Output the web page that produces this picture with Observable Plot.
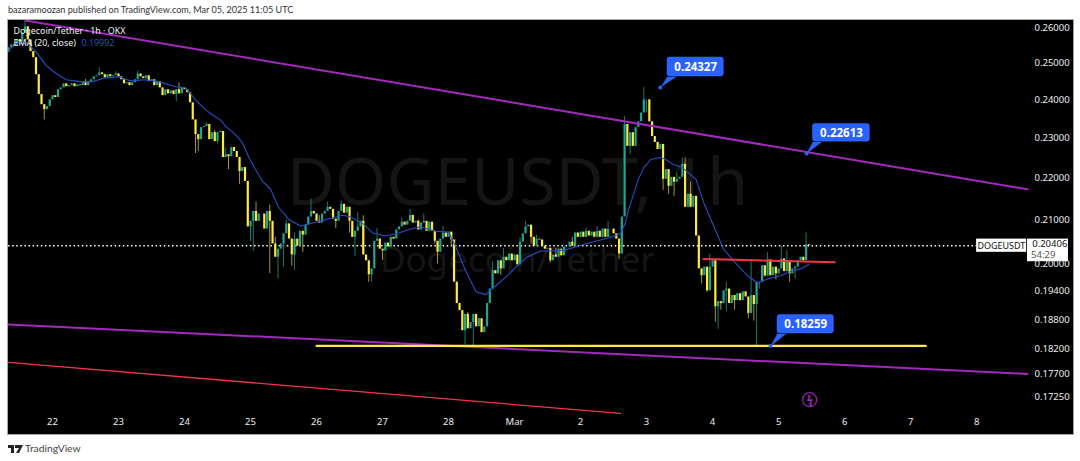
<!DOCTYPE html>
<html><head><meta charset="utf-8">
<script src="https://cdn.jsdelivr.net/npm/d3@7"></script>
<script src="https://cdn.jsdelivr.net/npm/@observablehq/plot@0.6"></script>
<style>
html,body{margin:0;padding:0;background:#fff;width:1080px;height:461px;overflow:hidden;font-family:Lato,sans-serif}
#head{height:20px;box-sizing:border-box;padding:3px 0 0 8px;font-size:9.1px;line-height:13px;color:#333}
#panel{margin-left:7px;width:1065px;height:414px;border:1px solid #a8a8a8;box-sizing:content-box;margin-top:-1px;background:#000}
#panel svg{display:block}
#foot{height:26px;position:relative;font-size:10.3px;color:#444}
#foot span{position:absolute;left:25px;top:7px}
#foot svg{position:absolute;left:8px;top:10px}
</style></head><body>
<div id="head">bazaramoozan published on TradingView.com, Mar 05, 2025 11:05 UTC</div>
<div id="panel"></div>
<div id="foot"><svg width="15" height="8" viewBox="0 0 15 8"><path d="M0 0H6V8H3V3H0Z M7 0H15L11 8H8L11 3H7Z" fill="#222"/><circle cx="8.6" cy="1.5" r="1.4" fill="#222"/></svg><span>TradingView</span></div>
<script>
// hourly closes, from hour 0 = 21 Feb 08:00 UTC
const closes = [
.2543,.2551,.2548,.2565,.2559,.2585,.2603,.2565,.2532,.2515,.2468,.2414,.2387,.2374,.2382,.2400,
.2411,.2406,.2427,.2432,.2443,.2435,.2438,.2443,.2435,.2440,.2438,.2446,.2438,.2449,.2454,.2462,
.2465,.2473,.2468,.2459,.2468,.2462,.2465,.2470,.2462,.2454,.2443,.2446,.2438,.2446,.2454,.2470,
.2462,.2457,.2465,.2449,.2454,.2438,.2449,.2432,.2411,.2427,.2416,.2424,.2414,.2427,.2416,.2432,
.2427,.2419,.2392,.2347,.2309,.2296,.2327,.2330,.2335,.2296,.2314,.2291,.2314,.2317,.2251,.2258,
.2253,.2276,.2266,.2251,.2216,.2226,.2192,.2084,.2097,.2120,.2097,.2114,.2114,.2079,.2120,.2097,
.2045,.2015,.2033,.2045,.2068,.2091,.2056,.2020,.2056,.2040,.2074,.2065,.2088,.2107,.2120,.2114,
.2097,.2093,.2114,.2120,.2130,.2125,.2102,.2097,.2120,.2137,.2116,.2130,.2097,.2060,.2074,.2084,
.2097,.2020,.2007,.1976,.1989,.2051,.2056,.2033,.2029,.2047,.2038,.2060,.2056,.2077,.2084,.2095,
.2088,.2097,.2111,.2093,.2097,.2077,.2093,.2097,.2074,.2095,.2074,.2051,.2026,.2056,.2070,.2060,
.2072,.2054,.1960,.1914,.1899,.1857,.1891,.1861,.1874,.1891,.1865,.1882,.1853,.1865,.1914,.1945,
.1985,.1978,.2007,.1989,.2015,.2007,.2022,.2007,.2020,.1998,.2049,.2068,.2084,.2088,.2060,.2040,
.2056,.2054,.2040,.2033,.2035,.2007,.2020,.2015,.2033,.2018,.2038,.2038,.2049,.2040,.2070,.2060,
.2072,.2060,.2074,.2063,.2072,.2060,.2074,.2060,.2079,.2060,.2079,.2079,.2068,.2056,.2022,.2107,
.2335,.2279,.2314,.2279,.2327,.2342,.2365,.2400,.2400,.2342,.2304,.2289,.2271,.2284,.2197,.2221,
.2180,.2202,.2190,.2197,.2202,.2234,.2130,.2161,.2130,.2156,.2063,.1989,.1974,.1993,.1941,.1993,
.2007,.1907,.1918,.1914,.1941,.1945,.1914,.1931,.1920,.1935,.1920,.1939,.1928,.1893,.1931,.1912,
.1960,.1960,.1996,.1973,.2009,.1974,.1993,.1978,.1989,.2011,.1983,.2007,.1978,.1989,.1993,.2007,
.2015,.2007,.2043,.20406];
// wick ends
const highHours = [6,33,39,47,72,90,95,101,110,116,121,127,134,146,151,188,210,218,224,231,245,246,248,255,261,270,276,281,283,290,
  28,62,75,79,97,104,113,125,129,143,149,158,167,176,180,186,192,199,205,214,236,243];
const highPrices = [.2620,.2487,.2476,.2478,.2340,.2142,.2135,.2100,.2149,.2142,.2145,.2118,.2080,.2125,.2114,.2097,.2081,.2097,.2356,.24327,.2250,.2250,.2190,.2022,.1960,.2009,.2025,.2040,.2030,.2070,
  .2455,.2445,.2320,.2275,.2060,.2070,.2110,.2090,.2110,.2105,.2100,.2085,.1895,.2005,.2035,.2058,.2065,.2035,.2060,.2085,.2285,.2215];
const lowHours = [13,68,69,80,84,89,95,98,100,104,107,126,131,132,136,156,166,169,197,226,240,242,252,254,257,258,261,269,271,272,284,286,
  61,76,88,103,119,124,139,155,161,179,190,200,206,222,232,238,247,259,264,273,279];
const lowPrices = [.2347,.2261,.2266,.2221,.2185,.2028,.1979,.1967,.1993,.1985,.2026,.2016,.1960,.1960,.2008,.2000,.1828,.1820,.2002,.2258,.2161,.2156,.1956,.1938,.1875,.1860,.1897,.1882,.1877,.1826,.1960,.1967,
  .2395,.2285,.2050,.1995,.2080,.2070,.2035,.2045,.2040,.1975,.2045,.2020,.2050,.2010,.2365,.2170,.2150,.1900,.1900,.1945,.1965];
// EMA(20)
const emaHours = [0,3.3,7,10,13.5,16.4,21,26,30.5,35,40,44.4,49.8,54.5,60.7,64.4,68,71.6,74.2,77,79,82.5,85,87.3,89.8,92.4,95.3,98.2,101.8,106.2,110.5,113.5,117,121.5,124.4,129,132.4,137,141.8,146.2,150,155.3,160,162.5,166.2,170,173.5,177,182.5,185,188.4,193.5,197,202.5,209.8,219,222.5,224.4,225.5,229,231,233.5,237,239,241.5,245,250,252.7,256.4,260,263.6,268.7,272.4,276,280.7,285,288,291];
const emaPrices = [.2537,.2556,.2554,.2532,.2495,.2476,.2454,.2449,.2449,.2459,.2462,.2451,.2454,.2449,.2435,.2432,.2400,.2374,.2360,.2347,.2330,.2309,.2289,.2253,.2221,.2192,.2173,.2130,.2102,.2086,.2093,.2097,.2104,.2111,.2107,.2091,.2070,.2063,.2070,.2079,.2084,.2074,.2072,.2040,.1985,.1939,.1933,.1951,.1980,.1996,.2015,.2029,.2029,.2031,.2045,.2060,.2068,.2095,.2125,.2197,.2226,.2246,.2251,.2246,.2234,.2226,.2197,.2142,.2086,.2033,.2007,.1974,.1958,.1967,.1974,.1985,.1989,.19992];
// drawn lines: hours and prices
const upperHours = [6.2,370.5], upperPrices = [.2621,.2173];
const lowerHours = [0,370.5], lowerPrices = [.1870,.1770];
const redLongHours = [0,222.5], redLongPrices = [.1793,.1694];
const redShortHours = [252.7,300.4], redShortPrices = [.2011,.2004];
const yellowHours = [112,333.5], yellowPrice = .18259;
const lastPrice = .20406;
const callouts = [
 {label:"0.24327",hour:237,price:.24327,h1:239.5,h2:260.2,top:.2516,bottom:.2462},
 {label:"0.22613",hour:290.2,price:.22613,h1:292.4,h2:313.3,top:.2337,bottom:.2290},
 {label:"0.18259",hour:277.1,price:.18259,h1:279.5,h2:300.2,top:.1890,bottom:.1851}
];
const priceTicks = [.26,.25,.24,.23,.22,.21,.20,.194,.188,.182,.177,.1725];
const dayTicks = ["02-22","02-23","02-24","02-25","02-26","02-27","02-28","03-01","03-02","03-03","03-04","03-05","03-06","03-07","03-08"];

const t0 = Date.UTC(2025,1,21,8);
const T = h => new Date(t0 + h*3600e3);
const candles = closes.map((c,i)=>({t:T(i),i,close:c,open:i?closes[i-1]:.2530}));
const up = candles.filter(d=>d.close>=d.open), down = candles.filter(d=>d.close<d.open);
const wicks = [...highHours.map((h,k)=>({h,p:highPrices[k]})),...lowHours.map((h,k)=>({h,p:lowPrices[k]}))]
  .filter(w=>candles[w.h]).map(w=>({t:T(w.h),p:w.p,base:candles[w.h].close,up:candles[w.h].close>=candles[w.h].open}));
const seg=(hs,ps)=>hs.map((h,i)=>({t:T(h),p:ps[i]}));
const TEAL="#1fa594",YEL="#ffeb3b",PUR="#a428bd",RED="#f23645",BLUE="#2962ff";
const font='"Noto Sans",sans-serif';
const w2=(o)=>Object.assign({x:"t",y:"p"},o);

const chart = Plot.plot({
  width:1065,height:414,marginLeft:0,marginRight:46,marginTop:0,marginBottom:20,
  style:{background:"#000",color:"#fff",fontFamily:font,fontSize:"9.5px"},
  x:{type:"utc",domain:[T(0),T(370.5)],range:[0,1019],label:null},
  y:{type:"log",domain:[.1692,.2621],range:[394,0],label:null},
  marks:[
    Plot.text(["DOGEUSDT, 1h"],{x:()=>T(185),y:()=>.2185,fontSize:66,fill:"#151515",fontFamily:font}),
    Plot.text(["Dogecoin/Tether"],{x:()=>T(185),y:()=>.2007,fontSize:35,fill:"#151515",fontFamily:font}),
    Plot.ruleY([lastPrice],{x1:T(0),x2:T(352),stroke:"#fff",strokeWidth:1.5,strokeDasharray:"1.5 2.6"}),
    Plot.ruleX(wicks.filter(d=>d.up),{x:"t",y1:"p",y2:"base",stroke:"#157a6e",strokeWidth:1}),
    Plot.ruleX(wicks.filter(d=>!d.up),{x:"t",y1:"p",y2:"base",stroke:"#a8982a",strokeWidth:1}),
    Plot.ruleX(up,{x:"t",y1:"open",y2:"close",stroke:TEAL,strokeWidth:2.2}),
    Plot.ruleX(down,{x:"t",y1:"open",y2:"close",stroke:YEL,strokeWidth:2.2}),
    Plot.line(seg(emaHours,emaPrices),w2({stroke:"#2450c8",strokeWidth:1.1})),
    Plot.line(seg(upperHours,upperPrices),w2({stroke:PUR,strokeWidth:2})),
    Plot.line(seg(lowerHours,lowerPrices),w2({stroke:PUR,strokeWidth:2})),
    Plot.line(seg(redLongHours,redLongPrices),w2({stroke:RED,strokeWidth:1.3})),
    Plot.line(seg(redShortHours,redShortPrices),w2({stroke:RED,strokeWidth:2})),
    Plot.line(seg(yellowHours,[yellowPrice,yellowPrice]),w2({stroke:YEL,strokeWidth:2.2})),
    Plot.axisX({ticks:dayTicks.map(s=>new Date("2025-"+s+"T00:00Z")),tickSize:0,tickPadding:4,fill:"#eee",fontSize:9.5,label:null,
      tickFormat:d=>d.getUTCDate()===1?"Mar":String(d.getUTCDate())}),
    Plot.axisY({anchor:"right",ticks:priceTicks,tickSize:0,tickPadding:7,fill:"#eee",fontSize:9.5,label:null,tickFormat:d3.format(".5f")}),
    ...callouts.flatMap(c=>[
      Plot.line([{t:T(c.h1),p:c.bottom},{t:T(c.h1+3.4),p:c.bottom},{t:T(c.hour),p:c.price}],w2({fill:BLUE,stroke:"none"})),
      Plot.rect([c],{x1:d=>T(d.h1),x2:d=>T(d.h2),y1:"bottom",y2:"top",fill:BLUE,rx:3}),
      Plot.dot([c],{x:d=>T(d.hour),y:"price",r:2,fill:BLUE}),
      Plot.text([c],{x:d=>T((d.h1+d.h2)/2),y:d=>Math.sqrt(d.top*d.bottom),text:"label",fill:"#fff",fontSize:11.5,fontWeight:700,fontFamily:font})
    ]),
    Plot.rect([0],{x1:()=>T(352),x2:()=>T(370.2),y1:()=>.2026,y2:()=>.2056,fill:"#fff"}),
    Plot.rect([0],{x1:()=>T(370.5),x2:()=>T(385.4),y1:()=>.2005,y2:()=>.2056,fill:"#fff"}),
    Plot.text(["DOGEUSDT"],{x:()=>T(361),y:()=>.2041,fill:"#111",fontSize:9}),
    Plot.text(["0.20406"],{x:()=>T(378.6),y:()=>.2045,fill:"#111",fontSize:9.5}),
    Plot.text(["54:29"],{x:()=>T(376.2),y:()=>.2020,fill:"#555",fontSize:9.5}),
    Plot.dot([0],{x:()=>T(291.3),y:()=>.1720,r:7,stroke:"#8e24aa",strokeWidth:1.2,fill:"none"}),
    Plot.text(["ϟ"],{x:()=>T(291.3),y:()=>.1720,fill:"#a428bd",fontSize:11,fontWeight:700}),
    Plot.text(["Dogecoin/Tether · 1h · OKX"],{frameAnchor:"top-left",dx:5,dy:7,fill:"#f0f0f0",fontSize:8.9}),
    Plot.text(["EMA (20, close)"],{frameAnchor:"top-left",dx:5,dy:19,fill:"#f0f0f0",fontSize:8.9}),
    Plot.text(["0.19992"],{frameAnchor:"top-left",dx:73,dy:19,fill:"#2450c8",fontSize:8.9})
  ]
});
document.getElementById("panel").append(chart);
</script>
</body></html>
